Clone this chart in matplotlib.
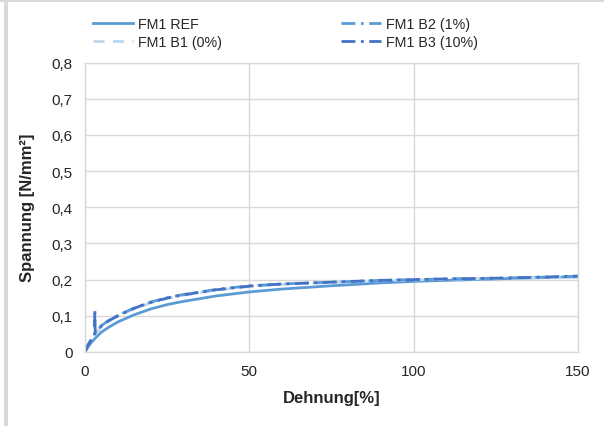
import matplotlib
matplotlib.use("Agg")
import matplotlib.pyplot as plt
from matplotlib.patches import Rectangle
from matplotlib.ticker import FuncFormatter

plt.rcParams['font.family'] = ['Liberation Sans', 'DejaVu Sans']

# strain [%]
strain = [0, 1, 2, 3, 5, 7.5, 10, 15, 20, 25, 30, 40, 50, 60, 75, 90, 100, 110, 125, 140, 150]
ref = [0, 0.015, 0.027, 0.037, 0.055, 0.070, 0.083, 0.103, 0.119, 0.131, 0.140, 0.155, 0.166, 0.174, 0.183, 0.191, 0.195, 0.198, 0.202, 0.206, 0.208]
b1 = [0, 0.020, 0.036, 0.048, 0.071, 0.087, 0.099, 0.120, 0.136, 0.148, 0.157, 0.171, 0.181, 0.187, 0.192, 0.197, 0.199, 0.201, 0.203, 0.205, 0.206]
b2 = [0, 0.021, 0.037, 0.050, 0.073, 0.089, 0.101, 0.122, 0.138, 0.150, 0.159, 0.173, 0.183, 0.188, 0.193, 0.198, 0.200, 0.202, 0.204, 0.207, 0.209]
b3_strain = [0, 1, 2, 2.9, 3.0, 3.1, 5, 7.5, 10, 15, 20, 25, 30, 40, 50, 60, 75, 90, 100, 110, 125, 140, 150]
b3 = [0, 0.020, 0.035, 0.045, 0.118, 0.055, 0.072, 0.088, 0.100, 0.121, 0.137, 0.149, 0.158, 0.172, 0.182, 0.188, 0.193, 0.198, 0.200, 0.202, 0.204, 0.207, 0.210]

labels = ["FM1 REF", "FM1 B1 (0%)", "FM1 B2 (1%)", "FM1 B3 (10%)"]
colors = ["#5B9BD5", "#BDD7EE", "#5B9BD5", "#4472C4"]

fig = plt.figure(figsize=(6.04, 4.27), dpi=100)
# gray frame strips
fig.patches.append(Rectangle((0, 1 - 3/427), 1, 3/427, transform=fig.transFigure,
                             facecolor="#D9D9D9", edgecolor="none", zorder=0))
fig.patches.append(Rectangle((4/604, 0), 4/604, 1 - 3/427, transform=fig.transFigure,
                             facecolor="#D9D9D9", edgecolor="none", zorder=0))

ax = fig.add_axes([85/604, (427-353)/427, (578-85)/604, (353-63.5)/427])

l1, = ax.plot(strain, ref, color=colors[0], lw=2.0, ls='-')
l2, = ax.plot(strain, b1, color=colors[1], lw=2.0, ls=(0, (4, 3)))
l3, = ax.plot(strain, b2, color=colors[2], lw=2.0, ls=(0, (5, 2, 1, 2)))
l4, = ax.plot(b3_strain, b3, color=colors[3], lw=2.0, ls=(0, (5, 2, 1, 2)))

ax.set_xlim(0, 150)
ax.set_ylim(0, 0.8)
ax.set_xticks([0, 50, 100, 150])
ax.set_yticks([i/10 for i in range(9)])
ax.yaxis.set_major_formatter(FuncFormatter(lambda v, p: "0" if abs(v) < 1e-9 else f"{v:.1f}".replace(".", ",")))
ax.grid(True, color="#D9D9D9", lw=1)
ax.set_axisbelow(True)
for s in ax.spines.values():
    s.set_color("#D9D9D9")
    s.set_linewidth(1)
ax.tick_params(axis='y', length=0, labelsize=11, pad=9)
ax.tick_params(axis='x', length=0, labelsize=11, pad=9)
for t in ax.get_xticklabels() + ax.get_yticklabels():
    t.set_color("#262626")

ax.set_xlabel("Dehnung[%]", fontsize=12, fontweight='bold', color="#262626", labelpad=8)
ax.set_ylabel("Spannung [N/mm²]", fontsize=12, fontweight='bold', color="#262626", labelpad=12)

fig.legend([l1, l2, l3, l4], labels, loc='upper left', bbox_to_anchor=(93/604, 1 - 18/427),
           ncol=2, frameon=False, fontsize=10.3, handlelength=2.8, columnspacing=8.3,
           labelspacing=0.3, handletextpad=0.35, borderpad=0, borderaxespad=0,
           labelcolor="#262626")

fig.savefig("out.png", dpi=100)
